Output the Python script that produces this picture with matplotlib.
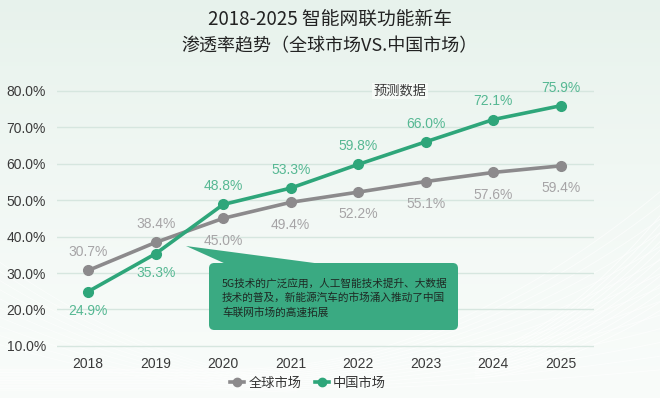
import numpy as np
import matplotlib
matplotlib.use("Agg")
import matplotlib.pyplot as plt
from matplotlib.patches import FancyBboxPatch, Polygon
from matplotlib.lines import Line2D

plt.rcParams['font.family'] = ['Liberation Sans', 'Noto Sans CJK SC', 'DejaVu Sans']

# ---- data ----
years = ['2018', '2019', '2020', '2021', '2022', '2023', '2024', '2025']
global_vals = [30.7, 38.4, 45.0, 49.4, 52.2, 55.1, 57.6, 59.4]
china_vals = [24.9, 35.3, 48.8, 53.3, 59.8, 66.0, 72.1, 75.9]
yticks = [10, 20, 30, 40, 50, 60, 70, 80]
series_names = ['全球市场', '中国市场']
title_lines = ['2018-2025 智能网联功能新车', '渗透率趋势（全球市场VS.中国市场）']
note_text = '5G技术的广泛应用，人工智能技术提升、大数据\n技术的普及，新能源汽车的市场涌入推动了中国\n车联网市场的高速拓展'
forecast_label = '预测数据'

W, H = 660, 398
fig = plt.figure(figsize=(W / 100, H / 100), dpi=100)

# ---- background gradient ----
bg = fig.add_axes([0, 0, 1, 1], zorder=-10)
yy, xx = np.mgrid[0:1:200j, 0:1:330j]
top = np.array([0.975, 0.988, 0.980])
bot = np.array([0.900, 0.945, 0.920])
t = np.clip(((1 - yy) ** 1.3) * 0.9, 0, 1)[..., None]
img = top * (1 - t) + bot * t
bg.imshow(img, extent=[0, 1, 0, 1], aspect='auto', origin='upper')
# decorative white wave lines
u = np.linspace(0, 1, 300)
for k in range(14):
    a = 0.02 + k * 0.012
    ycur = 0.02 + a * 6 * (u - 0.35) ** 2 * (u > 0.35) + k * 0.004
    bg.plot(u, ycur, color='white', lw=0.7, alpha=0.6)
for k in range(12):
    xs = np.linspace(0.72, 1.0, 200)
    ycur = 0.05 + (xs - 0.72) ** 1.6 * (1.3 + k * 0.12) + k * 0.006
    bg.plot(xs, ycur, color='white', lw=0.7, alpha=0.7)
for k in range(10):
    xs = np.linspace(0.0, 0.45, 200)
    ycur = 0.015 + (0.45 - xs) ** 1.8 * (0.5 + k * 0.08) + k * 0.004
    bg.plot(xs, ycur, color='white', lw=0.6, alpha=0.55)
bg.set_xlim(0, 1)
bg.set_ylim(0, 1)
bg.axis('off')

# ---- main axes ----
ax = fig.add_axes([57 / W, 1 - 349.6 / H, (594 - 57) / W, (349.6 - 79.8) / H])
ax.patch.set_alpha(0)
x = np.arange(len(years))
ax.set_xlim(-0.46, len(years) - 1 + 0.49)
ax.set_ylim(9, 83)

for v in yticks:
    ax.axhline(v, color='#d6e6df', lw=1.0, zorder=1)

gray = '#8c8a8c'
green = '#2ea67a'
ax.plot(x, global_vals, color=gray, lw=2.6, marker='o', ms=7, zorder=3,
        solid_capstyle='round')
ax.plot(x, china_vals, color=green, lw=2.6, marker='o', ms=7, zorder=4,
        solid_capstyle='round')

# data labels
for i, v in enumerate(global_vals):
    off = 13 if i < 2 else -16
    ax.annotate(f'{v:.1f}%', (x[i], v), xytext=(0, off), textcoords='offset points',
                ha='center', va='center', fontsize=10, color='#a6a4a6', zorder=5)
for i, v in enumerate(china_vals):
    off = -14 if i < 2 else 13
    ax.annotate(f'{v:.1f}%', (x[i], v), xytext=(0, off), textcoords='offset points',
                ha='center', va='center', fontsize=10, color='#56b893', zorder=5)

ax.set_yticks(yticks)
ax.set_yticklabels([f'{v:.1f}%' for v in yticks])
ax.set_xticks(x)
ax.set_xticklabels(years)
ax.tick_params(axis='y', length=0, pad=8, labelsize=10, labelcolor='#3a3a3a')
ax.tick_params(axis='x', length=0, pad=5, labelsize=10, labelcolor='#3a3a3a')
for s in ax.spines.values():
    s.set_visible(False)

# forecast label on 80% line
ax.text(4.62, 80, forecast_label, ha='center', va='center', fontsize=9.5,
        color='#3a3a3a', family=['Noto Sans CJK SC'], zorder=5,
        bbox=dict(boxstyle='square,pad=0.12', fc='#f6faf7', ec='none'))

# ---- annotation box ----
box_color = '#3aaa82'
def px2data(px, py):
    disp = fig.transFigure.transform((px / W, 1 - py / H))
    return ax.transData.inverted().transform(disp)

fig.canvas.draw()
box = FancyBboxPatch((209 / W, 1 - 330 / H), (458 - 209) / W, (330 - 263) / H,
                     boxstyle='round,pad=0,rounding_size=0.008',
                     mutation_aspect=W / H, transform=fig.transFigure,
                     fc=box_color, ec='none', zorder=6)
ax.add_patch(box)
tip = px2data(186, 246)
b1 = px2data(226, 264)
b2 = px2data(322, 264)
ax.add_patch(Polygon([tip, b1, b2], closed=True, fc=box_color, ec='none', zorder=6))
tx, ty = px2data(222, 298)
ax.text(tx, ty, note_text, ha='left', va='center', fontsize=7.7, color='#1e2a24',
        family=['Noto Sans CJK SC'], linespacing=1.45, zorder=7)

# ---- title ----
fig.text(0.5, 1 - 19 / H, title_lines[0], ha='center', va='center', fontsize=13.5,
         color='#222222', family=['Noto Sans CJK SC'])
fig.text(0.5, 1 - 46 / H, title_lines[1], ha='center', va='center', fontsize=13,
         color='#222222', family=['Noto Sans CJK SC'])

# ---- legend ----
handles = [Line2D([], [], color=gray, lw=2.6, marker='o', ms=6),
           Line2D([], [], color=green, lw=2.6, marker='o', ms=6)]
fig.legend(handles, series_names, loc='center', bbox_to_anchor=(308 / W, 1 - 383 / H),
           ncol=2, frameon=False, handlelength=1.1, handletextpad=0.3,
           columnspacing=1.0, prop={'family': ['Noto Sans CJK SC'], 'size': 9.5},
           labelcolor='#333333')

fig.savefig('out.png', dpi=100)
